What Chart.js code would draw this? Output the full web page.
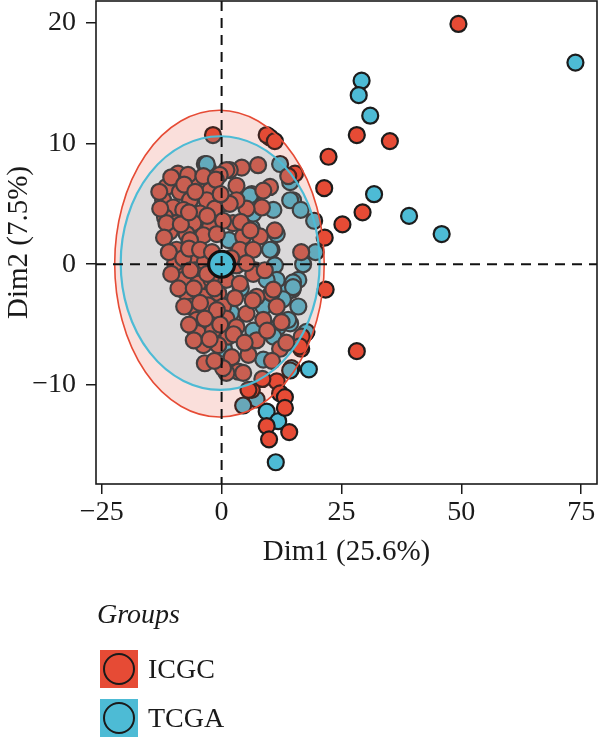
<!DOCTYPE html>
<html>
<head>
<meta charset="utf-8">
<script src="https://cdn.jsdelivr.net/npm/chart.js@4.4.0/dist/chart.umd.min.js"></script>
<style>
html,body{margin:0;padding:0;background:#fff;}
#wrap{position:relative;width:600px;height:739px;overflow:hidden;}
#c{position:absolute;left:0;top:0;}
#legend{position:absolute;left:0;top:0;width:600px;height:739px;pointer-events:none;font-family:"Liberation Serif","Times New Roman",serif;color:#1a1a1a;}
#legend .title{position:absolute;left:97px;top:596px;font-size:28px;font-style:italic;line-height:36px;}
#legend .item{position:absolute;left:100px;height:38px;display:flex;align-items:center;}
#legend .sw{width:38px;height:38px;position:relative;}
#legend .sw span{position:absolute;left:3px;top:3px;width:28px;height:28px;border:2px solid #1a1a1a;border-radius:50%;}
#legend .lab{margin-left:10px;font-size:28px;line-height:38px;}
</style>
</head>
<body>
<div id="wrap">
<canvas id="c" width="600" height="739" style="width:600px;height:739px"></canvas>
<div id="legend">
  <div class="title">Groups</div>
  <div class="item" style="top:650px"><div class="sw" id="sw0"><span></span></div><div class="lab">ICGC</div></div>
  <div class="item" style="top:699px"><div class="sw" id="sw1"><span></span></div><div class="lab">TCGA</div></div>
</div>
</div>
<script>
// ---- data ----
const groups = ['ICGC', 'TCGA'];
const groupColors = ['#E64B35', '#4DBBD5'];
const xTicks = [-25, 0, 25, 50, 75];
const xTickLabels = ['\u221225', '0', '25', '50', '75'];
const yTicks = [-10, 0, 10, 20];
const yTickLabels = ['\u221210', '0', '10', '20'];
const xTitle = 'Dim1 (25.6%)';
const yTitle = 'Dim2 (7.5%)';

const icgcPoints = [
 [49.4,19.9],[28.2,10.7],[35.1,10.2],[22.3,8.9],[21.4,6.3],[29.4,4.3],[25.2,3.3],[21.5,2.2],[16.6,1.0],[21.7,-2.1],[16.6,-7.0],[28.2,-7.2],
 [-1.8,10.7],[10.1,10.5],[9.4,10.7],[11.1,10.2],[15.3,7.5],[13.9,7.3],[10.1,6.4],[7.6,8.2],[4.2,8.0],[8.4,4.7],[5.2,4.6],[3.1,6.5],[11.1,2.8],[1.7,7.8],[2.4,3.4],[8.7,6.1],[3.1,5.3],
 [-9.1,7.5],[-6.6,7.1],[-4.9,6.5],[-2.4,6.1],[1.0,7.8],[-0.4,7.4],[-11.5,6.4],[-8.7,6.0],[-6.6,5.3],[-3.1,5.3],[-12.2,5.3],[-10.1,4.7],[-8.0,4.5],[-4.5,4.2],[-1.4,4.6],[1.7,5.0],
 [-11.8,3.9],[-9.4,3.4],[-5.9,3.4],[-2.4,3.1],[0.3,3.6],[-10.8,2.7],[-7.3,2.5],[-3.8,2.4],[-1.0,2.5],
 [-6.6,2.0],[-9.4,1.2],[-5.9,0.7],[-8.7,-0.2],[-5.6,-0.5],[-3.5,0.2],[-8.0,-1.3],[-4.9,-1.6],[-2.1,-1.3],[1.0,-1.3],[-7.3,-2.4],[-3.8,-2.7],[-0.7,-2.4],
 [-6.3,-3.5],[-2.8,-3.4],[0.3,-3.5],[-5.2,-4.6],[-2.1,-4.6],[1.0,-4.5],[-4.9,-5.7],[-1.8,-5.5],[1.4,-6.0],[-3.8,-6.7],[-0.7,-6.7],
 [4.5,2.3],[8.0,2.3],[3.8,1.2],[6.6,1.2],[3.1,-0.1],[7.0,-0.5],[10.4,-2.4],[6.6,-0.8],[3.8,-1.6],[7.3,-2.7],[11.5,-3.5],[5.2,-4.1],[8.7,-4.6],[3.1,-5.2],[7.3,-6.3],[16.7,-6.0],[5.2,0.1],
 [-3.5,-8.2],[2.1,-7.7],[5.6,-7.5],[12.2,-7.0],[3.5,-8.9],[1.0,-9.0],[16.3,-6.8],[11.5,-9.7],[6.3,-10.4],[12.2,-10.7],[13.2,-11.0],[13.2,-11.9],[9.4,-13.4],[14.1,-13.9],[9.9,-14.5],[5.6,-10.4],
 [0.3,-8.6],[-7.0,7.4],[-11.5,3.4],[-9.7,0.1],[10.8,-2.1],
 [-12.8,4.6],[-13.0,6.0],[-10.5,7.2],[-7.8,6.6],[-5.5,6.0],[-3.8,7.3],[-1.2,7.0],[-12.0,2.2],[-8.5,3.3],[-6.8,4.3],[-3.0,4.0],[-0.2,5.8],
 [-11.0,1.0],[-8.0,0.5],[-6.8,1.3],[-4.5,1.2],[-2.0,1.0],[-10.5,-0.8],[-6.5,-0.5],[-3.0,-0.8],[-9.0,-2.0],[-5.8,-2.0],[-1.5,-2.0],
 [-7.8,-3.5],[-4.5,-3.2],[-1.0,-3.8],[-6.8,-5.0],[-3.5,-4.5],[-0.3,-5.0],[-5.8,-6.3],[-2.5,-6.2],[-1.5,-8.0],[2.5,-5.8],[2.8,-2.8],[2.0,0.5],
 [4.0,3.5],[6.0,2.8],[6.5,-3.0],[4.8,-6.5],[9.5,-5.5],[9.0,-0.5],[12.5,-4.8],[13.5,-6.5],[4.5,-9.0],[8.5,-9.5],[10.5,-8.0]
];
const tcgaPoints = [
 [73.8,16.7],[29.2,15.2],[28.6,14.0],[31.0,12.3],[31.8,5.8],[39.1,4.0],[45.9,2.5],[19.3,3.6],[19.6,1.0],[16.0,-1.3],[14.8,-2.1],[14.3,-4.9],[17.5,-5.7],[18.2,-8.7],[14.6,-8.6],
 [-2.8,7.9],[-3.5,8.3],[12.2,8.3],[14.3,6.8],[14.9,5.3],[10.8,4.5],[6.3,5.8],[6.3,3.0],[10.4,1.2],[11.1,-0.1],[11.5,-1.3],[14.9,-1.5],[13.6,-2.3],[8.7,-3.5],[13.9,-4.6],
 [11.8,-5.2],[6.6,-5.5],[17.7,-5.6],[10.8,-6.0],[11.5,2.5],[3.1,1.7],[8.7,-7.9],[14.3,-8.8],[7.3,-11.2],[4.5,-11.7],[9.4,-12.2],[11.8,-13.0],[11.3,-16.4],[-3.1,8.3],
 [5.9,5.7],[6.6,4.2],[14.3,5.3],[10.1,1.2],[9.4,-1.3],[14.9,-1.9],[-5.9,-5.2],
 [-8.0,6.8],[-5.0,3.0],[-2.0,-2.5],[0.0,5.0],[2.0,-4.0],[4.0,-2.0],[-7.0,1.5],[-4.0,-5.5],[1.5,2.0],[0.5,-7.0],[16.5,4.5],[12.8,-2.9],[16.0,-3.5],[17.0,0.0]
];
const centroidPoints = [[0, 0]];
// confidence ellipses: [centerX, centerY, radiusX, radiusY]
const icgcEllipse = [-0.45, 0.05, 21.85, 12.7];
const tcgaEllipse = [-0.3, 0.1, 20.75, 10.5];
const refLines = [0, 0]; // vertical line at x, horizontal line at y

// ---- chart ----
const FONT = '"Liberation Serif","Times New Roman",serif';
const TXT = '#1a1a1a';
document.querySelector('#sw0').style.background = groupColors[0];
document.querySelector('#sw1').style.background = groupColors[1];
const toXY = a => a.map(p => ({x: p[0], y: p[1]}));

const ellipsePlugin = {
  id: 'ellipses',
  afterDatasetDraw(chart, args) {
    if (chart.data.datasets[args.index].label !== groups[0]) return;
    const {ctx, chartArea: ca, scales: {x, y}} = chart;
    ctx.save();
    ctx.beginPath(); ctx.rect(ca.left, ca.top, ca.right - ca.left, ca.bottom - ca.top); ctx.clip();
    const draw = (e, fill, stroke, lw) => {
      const px = x.getPixelForValue(e[0]), py = y.getPixelForValue(e[1]);
      const rx = x.getPixelForValue(e[0] + e[2]) - px;
      const ry = py - y.getPixelForValue(e[1] + e[3]);
      ctx.beginPath(); ctx.ellipse(px, py, rx, ry, 0, 0, Math.PI * 2);
      ctx.fillStyle = fill; ctx.fill();
      ctx.lineWidth = lw; ctx.strokeStyle = stroke; ctx.stroke();
    };
    draw(icgcEllipse, 'rgba(230,75,53,0.18)', groupColors[0], 1.6);
    draw(tcgaEllipse, 'rgba(77,187,213,0.18)', groupColors[1], 2.2);
    ctx.restore();
  },
  afterDatasetsDraw(chart) {
    const {ctx, chartArea: ca, scales: {x, y}} = chart;
    ctx.save();
    ctx.strokeStyle = '#111'; ctx.lineWidth = 2; ctx.setLineDash([10, 7]);
    const vx = x.getPixelForValue(refLines[0]);
    const hy = y.getPixelForValue(refLines[1]);
    ctx.beginPath(); ctx.moveTo(vx, ca.top); ctx.lineTo(vx, ca.bottom); ctx.stroke();
    ctx.beginPath(); ctx.moveTo(ca.left, hy); ctx.lineTo(ca.right, hy); ctx.stroke();
    ctx.setLineDash([]);
    ctx.lineWidth = 1.6; ctx.strokeStyle = TXT;
    ctx.strokeRect(ca.left, ca.top, ca.right - ca.left, ca.bottom - ca.top);
    ctx.restore();
  }
};

const tickFont = {family: FONT, size: 28};
const titleFont = {family: FONT, size: 29};
new Chart(document.getElementById('c'), {
  type: 'scatter',
  data: {
    datasets: [
      {label: groups[0], data: toXY(icgcPoints), order: 2, backgroundColor: groupColors[0], borderColor: '#1c1c1c', borderWidth: 2.2, pointRadius: 8, pointHoverRadius: 8},
      {label: groups[1], data: toXY(tcgaPoints), order: 3, backgroundColor: groupColors[1], borderColor: '#1c1c1c', borderWidth: 2.2, pointRadius: 8, pointHoverRadius: 8},
      {label: 'centroid', data: toXY(centroidPoints), order: 1, backgroundColor: groupColors[1], borderColor: '#111', borderWidth: 3.2, pointRadius: 13, pointHoverRadius: 13}
    ]
  },
  options: {
    responsive: false,
    animation: false,
    events: [],
    layout: {autoPadding: false, padding: {left: 0, top: 1, right: 3, bottom: 165}},
    plugins: {legend: {display: false}, tooltip: {enabled: false}},
    scales: {
      x: {
        type: 'linear', min: -26.2, max: 78.3,
        afterBuildTicks: s => { s.ticks = xTicks.map(v => ({value: v})); },
        afterFit: s => { s.height = 90; s.paddingLeft = 0; s.paddingRight = 0; },
        ticks: {callback: v => xTickLabels[xTicks.indexOf(v)], font: tickFont, color: TXT, padding: 2, maxRotation: 0, autoSkip: false},
        grid: {display: true, drawOnChartArea: false, drawTicks: true, tickLength: 10, color: TXT, lineWidth: 1.5},
        border: {display: false},
        title: {display: true, text: xTitle, font: titleFont, color: TXT, padding: {top: 0, bottom: 4}}
      },
      y: {
        type: 'linear', min: -18.2, max: 21.8,
        afterBuildTicks: s => { s.ticks = yTicks.map(v => ({value: v})); },
        afterFit: s => { s.width = 96; s.paddingTop = 0; s.paddingBottom = 0; },
        ticks: {callback: v => yTickLabels[yTicks.indexOf(v)], font: tickFont, color: TXT, padding: 10, autoSkip: false},
        grid: {display: true, drawOnChartArea: false, drawTicks: true, tickLength: 10, color: TXT, lineWidth: 1.5},
        border: {display: false},
        title: {display: true, text: yTitle, font: titleFont, color: TXT, padding: {top: 2, bottom: 0}}
      }
    }
  },
  plugins: [ellipsePlugin]
});
</script>
</body>
</html>
